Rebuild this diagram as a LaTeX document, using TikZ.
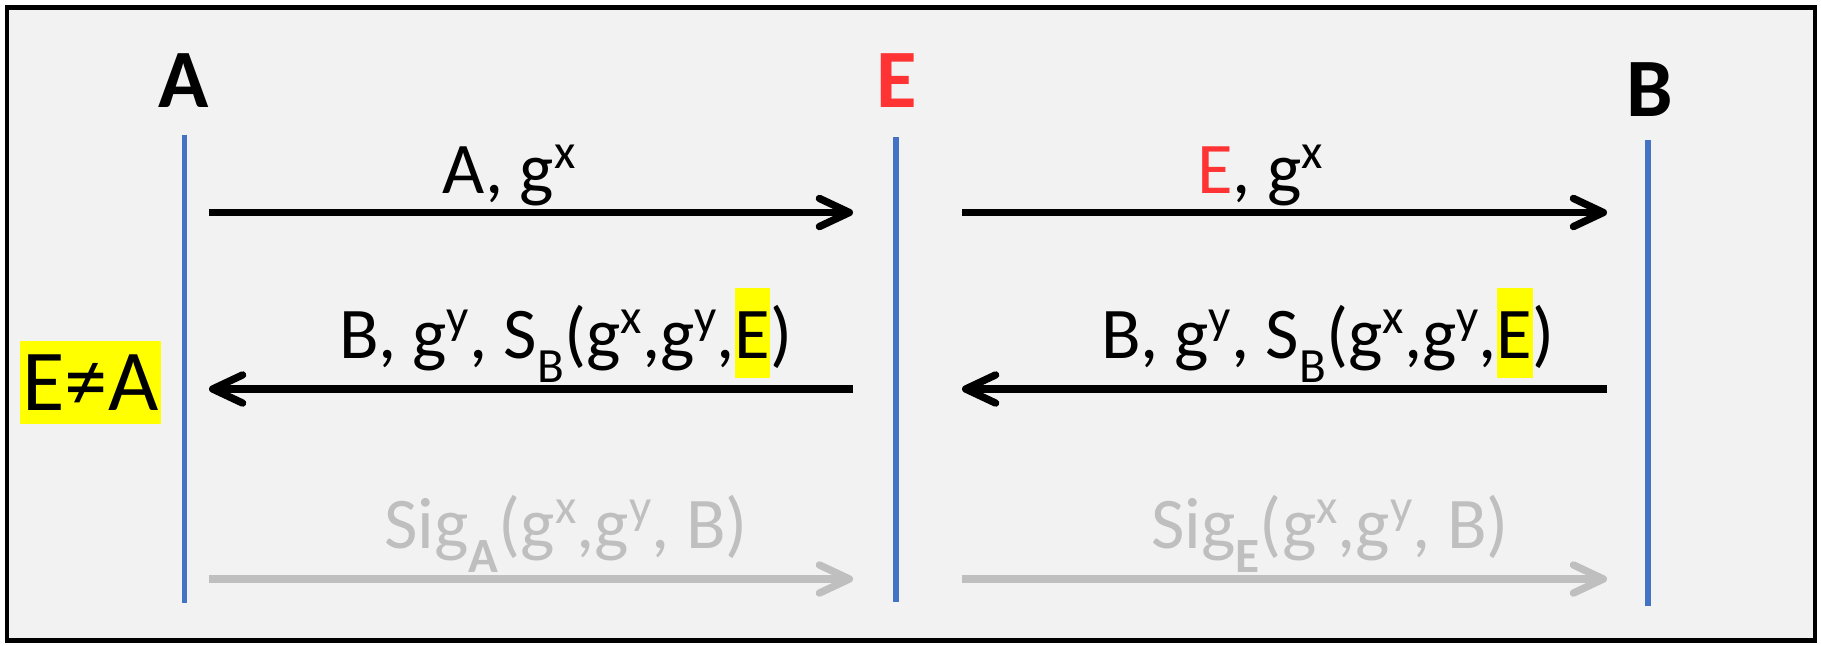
\documentclass[tikz,border=0pt]{standalone}
\usepackage{fontspec}
\setmainfont{Carlito}
\usepackage{xcolor}
\usepackage{tikz}
\usetikzlibrary{arrows.meta}

\definecolor{slidebg}{HTML}{F2F2F2}
\definecolor{lifeblue}{HTML}{4472C4}
\definecolor{evilred}{HTML}{FF3333}
\definecolor{faded}{HTML}{BFBFBF}
\definecolor{hlyellow}{HTML}{FFFF00}

\newcommand\msup[1]{\raisebox{7pt}{\fontsize{14}{14}\selectfont #1}}
\newcommand\msub[1]{\raisebox{-7pt}{\fontsize{14}{14}\selectfont #1}}
\newcommand\hlbox[1]{{\setlength{\fboxsep}{0pt}\colorbox{hlyellow}{\rule[-0.27em]{0pt}{1.23em}#1}}}

\begin{document}
\begin{tikzpicture}[
    x=0.01cm, y=-0.01cm,
    party/.style    = {font=\fontsize{23.6}{28}\selectfont\bfseries, anchor=base, inner sep=0pt},
    lifeline/.style = {draw=lifeblue, line width=1.5pt},
    msg/.style      = {-{Straight Barb[length=8.5pt, width=8pt, round]}, line width=2.1pt, black},
    faint/.style    = {msg, faded},
    msglabel/.style = {font=\fontsize{20.7}{25}\selectfont, anchor=base, inner sep=0pt}
]
\useasboundingbox (0,0) rectangle (1821,645);
\draw[line width=1.4pt, fill=slidebg] (7,7.5) rectangle (1815,640.5);

% parties
\node[party]                 (A) at (184,107)  {A};
\node[party, text=evilred]   (E) at (897,107)  {E};
\node[party]                 (B) at (1650,116) {B};

% lifelines
\coordinate (Atop) at (184.5,135);  \coordinate (Abot) at (184.5,603);
\coordinate (Etop) at (896,137);    \coordinate (Ebot) at (896,602);
\coordinate (Btop) at (1648,140);   \coordinate (Bbot) at (1648,606);
\draw[lifeline] (Atop) -- (Abot);
\draw[lifeline] (Etop) -- (Ebot);
\draw[lifeline] (Btop) -- (Bbot);

% message end points
\coordinate (a1) at (209,212.5);  \coordinate (e1l) at (853,212.5);
\coordinate (e1r) at (962,212.5); \coordinate (b1) at (1607,212.5);
\coordinate (a2) at (209,389);    \coordinate (e2l) at (853,389);
\coordinate (e2r) at (962,389);   \coordinate (b2) at (1607,389);
\coordinate (a3) at (209,579);    \coordinate (e3l) at (853,579);
\coordinate (e3r) at (962,579);   \coordinate (b3) at (1607,579);

\draw[msg]   (a1)  -- (e1l);
\draw[msg]   (e1r) -- (b1);
\draw[msg]   (e2l) -- (a2);
\draw[msg]   (b2)  -- (e2r);
\draw[faint] (a3)  -- (e3l);
\draw[faint] (e3r) -- (b3);

% labels
\node[msglabel] (m1) at (509,193)  {A, g\msup{x}};
\node[msglabel] (m2) at (1260,193) {\textcolor{evilred}{E}, g\msup{x}};
\node[msglabel] (m3) at (566,358)  {B, g\msup{y}, S\msub{B}(g\msup{x},g\msup{y},\hlbox{E})};
\node[msglabel] (m4) at (1328,358) {B, g\msup{y}, S\msub{B}(g\msup{x},g\msup{y},\hlbox{E})};
\node[msglabel, text=faded] (m5) at (566,548)  {Sig\msub{\textbf{A}}(g\msup{x},g\msup{y}, B)};
\node[msglabel, text=faded] (m6) at (1330,548) {Sig\msub{\textbf{E}}(g\msup{x},g\msup{y}, B)};

\node[fill=hlyellow, minimum width=1.41cm, minimum height=0.83cm, inner sep=0pt,
      font=\fontsize{24.7}{30}\selectfont] (neq) at (90.5,382.5) {E≠A};
\end{tikzpicture}
\end{document}
